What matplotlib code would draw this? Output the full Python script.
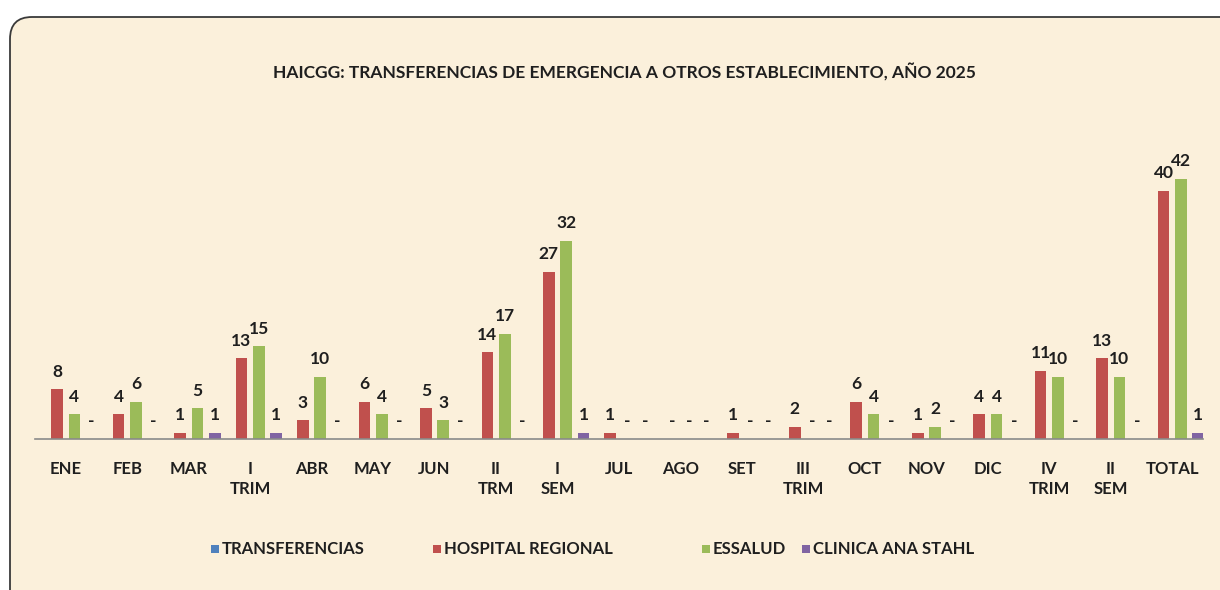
import numpy as np
import matplotlib.pyplot as plt
from matplotlib.patches import FancyBboxPatch, Rectangle

# data
categories = ["ENE", "FEB", "MAR", "I\nTRIM", "ABR", "MAY", "JUN", "II\nTRM", "I\nSEM",
              "JUL", "AGO", "SET", "III\nTRIM", "OCT", "NOV", "DIC", "IV\nTRIM", "II\nSEM", "TOTAL"]
transferencias = [np.nan] * 19  # series present in legend but not drawn
hospital_regional = [8, 4, 1, 13, 3, 6, 5, 14, 27, 1, 0, 1, 2, 6, 1, 4, 11, 13, 40]
essalud = [4, 6, 5, 15, 10, 4, 3, 17, 32, 0, 0, 0, 0, 4, 2, 4, 10, 10, 42]
clinica_ana_stahl = [0, 0, 1, 1, 0, 0, 0, 0, 1, 0, 0, 0, 0, 0, 0, 0, 0, 0, 1]

series_names = ["TRANSFERENCIAS", "HOSPITAL REGIONAL", "ESSALUD", "CLINICA ANA STAHL"]
series_vals = [transferencias, hospital_regional, essalud, clinica_ana_stahl]
colors = ["#4F81BD", "#C0504D", "#9BBB59", "#8064A2"]

plt.rcParams["font.family"] = ["Lato", "DejaVu Sans"]
TXT = "#1F1F1F"

fig = plt.figure(figsize=(12.2, 5.9), dpi=100)
fig.patch.set_facecolor("white")

# rounded chart area (clipped at right/bottom like the screenshot)
bg = FancyBboxPatch((0.10, -0.5), 12.8, 5.73 + 0.5, boxstyle="round,pad=0,rounding_size=0.22",
                    transform=fig.dpi_scale_trans, facecolor="#FBF0DB", edgecolor="#3A3A3A",
                    linewidth=1.3, zorder=-5)
fig.patches.append(bg)

ax = fig.add_axes([35 / 1220, 1 - 439 / 590, 1168 / 1220, 279 / 590])
ax.set_facecolor("none")
ax.set_zorder(2)

x = np.arange(len(categories))
width = 0.19
step = 0.282
for i, (name, vals, c) in enumerate(zip(series_names, series_vals, colors)):
    xs = x + (i - 1.5) * step
    vals = np.array(vals, dtype=float)
    ax.bar(xs, np.nan_to_num(vals), width, color=c, label=name, zorder=2)
    for xi, v in zip(xs, vals):
        if np.isnan(v):
            continue
        txt = "-" if v == 0 else f"{int(v)}"
        ax.annotate(txt, (xi, v), xytext=(0, 9), textcoords="offset points",
                    ha="center", va="baseline", fontsize=12.5, fontweight="bold", color=TXT)

ax.set_xlim(-0.5, len(categories) - 0.5)
ax.set_ylim(0, 45)
ax.set_xticks(x)
ax.set_xticklabels(categories, fontsize=12, fontweight="bold", color=TXT, linespacing=1.3)
ax.tick_params(axis="x", length=0, pad=16)
ax.set_yticks([])
for s in ["top", "right", "left"]:
    ax.spines[s].set_visible(False)
ax.spines["bottom"].set_color("#8A8A8A")
ax.spines["bottom"].set_linewidth(1.2)

fig.text(624 / 1220, 1 - 72 / 590,
         "HAICGG: TRANSFERENCIAS DE EMERGENCIA A OTROS ESTABLECIMIENTO, AÑO 2025",
         ha="center", va="center", fontsize=12.5, fontweight="bold", color=TXT)

# legend laid out like the Excel one
leg_x = [215, 437, 706, 806]
leg_y = 549
for lx, name, c in zip(leg_x, series_names, colors):
    fig.patches.append(Rectangle(((lx - 4) / 1220, 1 - (leg_y + 4) / 590), 8 / 1220, 8 / 590,
                                 transform=fig.transFigure, facecolor=c, edgecolor="none"))
    fig.text((lx + 7) / 1220, 1 - leg_y / 590, name, ha="left", va="center",
             fontsize=12, fontweight="bold", color=TXT)

fig.savefig("out.png", dpi=100)
